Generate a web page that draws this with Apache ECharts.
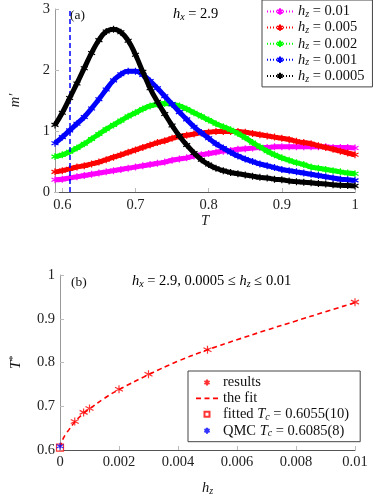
<!DOCTYPE html>
<html>
<head>
<meta charset="utf-8">
<script src="https://cdn.jsdelivr.net/npm/echarts@6/dist/echarts.min.js"></script>
<style>
    html, body { margin: 0; padding: 0; background: #fff; }
    #chart { width: 373px; height: 497px; }
</style>
</head>
<body>
<div id="chart"></div>
<script>
    // panel (a): m' against T for several h_z
    var temps = [0.59, 0.60, 0.61, 0.62, 0.63, 0.64, 0.65, 0.66, 0.67, 0.68, 0.69,
        0.70, 0.71, 0.72, 0.73, 0.74, 0.75, 0.76, 0.77, 0.78, 0.79,
        0.80, 0.81, 0.82, 0.83, 0.84, 0.85, 0.86, 0.87, 0.88, 0.89,
        0.90, 0.91, 0.92, 0.93, 0.94, 0.95, 0.96, 0.97, 0.98, 0.99, 1.00];
    var hzLabels = ['0.01', '0.005', '0.002', '0.001', '0.0005'];
    var hzColors = ['#ff00ff', '#ff0000', '#00ff00', '#0000ff', '#000000'];
    var m_001 = [0.20, 0.21, 0.23, 0.25, 0.27, 0.29, 0.31, 0.33, 0.35, 0.37, 0.39,
        0.41, 0.43, 0.45, 0.47, 0.49, 0.52, 0.54, 0.56, 0.59, 0.61,
        0.63, 0.65, 0.67, 0.68, 0.70, 0.71, 0.72, 0.73, 0.73, 0.74,
        0.74, 0.74, 0.74, 0.74, 0.74, 0.74, 0.74, 0.73, 0.73, 0.73, 0.72];
    var m_0005 = [0.33, 0.35, 0.38, 0.41, 0.43, 0.46, 0.49, 0.53, 0.57, 0.61, 0.65,
        0.69, 0.73, 0.77, 0.81, 0.84, 0.88, 0.91, 0.93, 0.95, 0.97,
        0.98, 0.99, 0.99, 0.99, 0.99, 0.98, 0.96, 0.94, 0.92, 0.90,
        0.88, 0.86, 0.83, 0.81, 0.79, 0.76, 0.73, 0.70, 0.67, 0.64, 0.61];
    var m_0002 = [0.58, 0.61, 0.66, 0.72, 0.79, 0.87, 0.95, 1.03, 1.10, 1.17, 1.24,
        1.30, 1.36, 1.41, 1.44, 1.45, 1.44, 1.41, 1.36, 1.30, 1.24,
        1.18, 1.12, 1.07, 1.02, 0.96, 0.89, 0.81, 0.74, 0.67, 0.61,
        0.56, 0.52, 0.48, 0.45, 0.41, 0.39, 0.37, 0.35, 0.33, 0.31, 0.30];
    var m_0001 = [0.80, 0.90, 1.01, 1.12, 1.23, 1.37, 1.52, 1.68, 1.83, 1.93, 1.98,
        1.98, 1.92, 1.82, 1.70, 1.57, 1.44, 1.31, 1.19, 1.07, 0.97,
        0.88, 0.79, 0.72, 0.65, 0.59, 0.54, 0.50, 0.46, 0.43, 0.40,
        0.37, 0.35, 0.33, 0.31, 0.29, 0.27, 0.25, 0.23, 0.21, 0.20, 0.19];
    var m_00005 = [1.10, 1.30, 1.54, 1.78, 2.03, 2.28, 2.49, 2.63, 2.67, 2.62, 2.48,
        2.25, 1.97, 1.70, 1.48, 1.28, 1.09, 0.92, 0.77, 0.64, 0.53,
        0.45, 0.39, 0.35, 0.32, 0.30, 0.28, 0.26, 0.24, 0.23, 0.21,
        0.20, 0.18, 0.17, 0.16, 0.15, 0.14, 0.13, 0.12, 0.11, 0.105, 0.10];
    var mCurves = [m_001, m_0005, m_0002, m_0001, m_00005];
    var qmcTc = 0.6085;

    // panel (b): T* against h_z
    var hzResults = [0.0005, 0.0008, 0.001, 0.002, 0.003, 0.005, 0.01];
    var tResults = [0.665, 0.686, 0.695, 0.739, 0.773, 0.829, 0.938];
    var hzFit = [0, 0.00005, 0.0001, 0.0002, 0.0003, 0.0005, 0.00075, 0.001, 0.0015,
        0.002, 0.003, 0.004, 0.005, 0.006, 0.007, 0.008, 0.009, 0.01];
    var tFit = [0.6055, 0.617, 0.625, 0.637, 0.646, 0.664, 0.681, 0.694, 0.718,
        0.738, 0.772, 0.803, 0.829, 0.852, 0.874, 0.895, 0.916, 0.937];
    var fittedTc = 0.6055;

    var serif = '"Liberation Serif", "DejaVu Serif", serif';
    var starPath = 'path://M5,0L5,10M0.67,2.5L9.33,7.5M0.67,7.5L9.33,2.5';
    // legend icons, drawn inside a 22x12 (or 26x12) box so the mark keeps a small size
    var boxPts = function (w, h) { return 'M0,0L0.01,0M' + w + ',' + h + 'L' + (w - 0.01) + ',' + h; };
    var starAt = function (cx, cy, r) {
        var a = r * 0.866, b = r * 0.5;
        return 'M' + cx + ',' + (cy - r) + 'L' + cx + ',' + (cy + r) +
            'M' + (cx - a) + ',' + (cy - b) + 'L' + (cx + a) + ',' + (cy + b) +
            'M' + (cx - a) + ',' + (cy + b) + 'L' + (cx + a) + ',' + (cy - b);
    };
    var dots = '';
    [0, 3, 6, 9, 16, 19, 22, 25].forEach(function (x) { dots += 'M' + x + ',6L' + (x + 1) + ',6'; });
    var iconTop = 'path://' + boxPts(26, 12) + dots + starAt(13, 6, 3.2);
    var iconStar = 'path://' + boxPts(22, 12) + starAt(11, 6, 3);
    var iconRect = 'path://' + boxPts(22, 12) + 'M8.5,3.5L13.5,3.5L13.5,8.5L8.5,8.5Z';
    var iconDash = 'path://M0,0L0.01,0L0.01,0.01ZM22,12L21.99,12L21.99,11.99Z' +
        'M0,5.2L5,5.2L5,6.8L0,6.8ZM8.5,5.2L13.5,5.2L13.5,6.8L8.5,6.8ZM17,5.2L22,5.2L22,6.8L17,6.8Z';

    var rich = {
        i: { fontFamily: serif, fontStyle: 'italic', fontSize: 14.5, color: '#111', lineHeight: 16 },
        s: { fontFamily: serif, fontStyle: 'italic', fontSize: 10, color: '#111', lineHeight: 9, verticalAlign: 'bottom' },
        p: { fontFamily: serif, fontSize: 10, color: '#111', lineHeight: 9, verticalAlign: 'top' },
        n: { fontFamily: serif, fontSize: 14.5, color: '#111', lineHeight: 16 }
    };

    function pairs(xs, ys) {
        return xs.map(function (x, k) { return [x, ys[k]]; });
    }

    var series = [];
    mCurves.forEach(function (ys, k) {
        // thick band under the star markers
        series.push({
            name: 'band ' + hzLabels[k], type: 'line', xAxisIndex: 0, yAxisIndex: 0,
            data: pairs(temps, ys), smooth: true, symbol: 'none', silent: true,
            lineStyle: { color: hzColors[k], width: 5 }, z: 2 + k
        });
        series.push({
            name: hzLabels[k], type: 'line', xAxisIndex: 0, yAxisIndex: 0,
            data: pairs(temps, ys), smooth: true,
            symbol: starPath, symbolSize: 7, showAllSymbol: true,
            itemStyle: { color: hzColors[k], borderColor: hzColors[k], borderWidth: 1.2 },
            lineStyle: { color: hzColors[k], width: 1, type: 'dotted' }, z: 2 + k
        });
    });
    // dashed QMC T_c line
    series[series.length - 1].markLine = {
        silent: true, symbol: 'none', label: { show: false },
        lineStyle: { color: '#0000ff', type: [5, 3], width: 1.5 },
        data: [{ xAxis: qmcTc }]
    };

    series.push({
        name: 'results', type: 'scatter', xAxisIndex: 1, yAxisIndex: 1,
        data: pairs(hzResults, tResults), symbol: starPath, symbolSize: 8,
        itemStyle: { color: '#ff0000', borderColor: '#ff0000', borderWidth: 1.2 }, z: 4
    });
    series.push({
        name: 'the fit', type: 'line', xAxisIndex: 1, yAxisIndex: 1,
        data: pairs(hzFit, tFit), smooth: true, symbol: 'none',
        itemStyle: { color: '#ff0000' },
        lineStyle: { color: '#ff0000', width: 1.6, type: [5, 3.5] }, z: 3
    });
    series.push({
        name: 'fitted', type: 'scatter', xAxisIndex: 1, yAxisIndex: 1,
        data: [[0, fittedTc]], symbol: 'rect', symbolSize: 7,
        itemStyle: { color: 'rgba(255,255,255,0)', borderColor: '#ff0000', borderWidth: 1.2 }, z: 5
    });
    series.push({
        name: 'QMC', type: 'scatter', xAxisIndex: 1, yAxisIndex: 1,
        data: [[0, qmcTc]], symbol: starPath, symbolSize: 7,
        itemStyle: { color: '#0000ff', borderColor: '#0000ff', borderWidth: 1.2 }, z: 6
    });

    function valueAxis(opt) {
        var base = {
            type: 'value',
            axisLine: { show: true, lineStyle: { color: '#555', width: 1 } },
            axisTick: { show: true, inside: true, length: 4, lineStyle: { color: '#bbb' } },
            axisLabel: { fontFamily: serif, fontSize: 14.5, color: '#222', margin: 5 },
            splitLine: { show: false },
            nameTextStyle: { fontFamily: serif, fontSize: 14.5, color: '#222', fontStyle: 'italic', rich: rich }
        };
        return Object.assign(base, opt);
    }

    var chart = echarts.init(document.getElementById('chart'));
    chart.setOption({
        animation: false,
        grid: [
            { left: 52, right: 18, top: 9, height: 183 },
            { left: 52, right: 18, top: 275, height: 182 }
        ],
        xAxis: [
            valueAxis({
                gridIndex: 0, min: 0.59, max: 1.0,
                axisLabel: { fontFamily: serif, fontSize: 14.5, color: '#222', margin: 6, customValues: [0.6, 0.7, 0.8, 0.9, 1] },
                axisTick: { show: true, inside: true, length: 4, lineStyle: { color: '#bbb' }, customValues: [0.6, 0.7, 0.8, 0.9, 1] },
                name: 'T', nameLocation: 'middle', nameGap: 21
            }),
            valueAxis({
                gridIndex: 1, min: 0, max: 0.01, interval: 0.002,
                name: '{i|h}{s|z}', nameLocation: 'middle', nameGap: 30
            })
        ],
        yAxis: [
            valueAxis({
                gridIndex: 0, min: 0, max: 3, interval: 1,
                axisLine: { show: true, lineStyle: { color: '#999', width: 1 } },
                name: 'm′', nameLocation: 'middle', nameGap: 32
            }),
            valueAxis({
                gridIndex: 1, min: 0.6, max: 1, interval: 0.1,
                axisLine: { show: true, lineStyle: { color: '#999', width: 1 } },
                name: '{i|T}{p|*}', nameLocation: 'middle', nameGap: 36
            })
        ],
        legend: [
            {
                orient: 'vertical', left: 262, top: 0,
                data: hzLabels.map(function (n) { return { name: n, icon: iconTop }; }),
                itemWidth: 26, itemHeight: 12, itemGap: 0.6,
                padding: [4, 8, 3, 4], borderColor: '#444', borderWidth: 1, backgroundColor: '#fff',
                textStyle: { fontFamily: serif, fontSize: 14.5, color: '#111', rich: rich },
                formatter: function (name) { return '{i|h}{s|z}{n| = ' + name + '}'; }
            },
            {
                orient: 'vertical', left: 188, top: 371,
                data: [
                    { name: 'results', icon: iconStar },
                    { name: 'the fit', icon: iconDash, itemStyle: { borderWidth: 0 } },
                    { name: 'fitted', icon: iconRect },
                    { name: 'QMC', icon: iconStar }
                ],
                itemWidth: 22, itemHeight: 12, itemGap: 0.9,
                padding: [4, 11, 3, 7], borderColor: '#444', borderWidth: 1, backgroundColor: '#fff',
                textStyle: { fontFamily: serif, fontSize: 14.5, color: '#111', rich: rich },
                formatter: function (name) {
                    if (name === 'fitted') return '{n|fitted }{i|T}{s|c}{n| = 0.6055(10)}';
                    if (name === 'QMC') return '{n|QMC }{i|T}{s|c}{n| = 0.6085(8)}';
                    return '{n|' + name + '}';
                }
            }
        ],
        graphic: [
            { type: 'text', left: 70, top: 8, style: { text: '(a)', font: '13.5px ' + serif, fill: '#111' } },
            { type: 'text', left: 173, top: 7, style: { text: '{i|h}{s|x}{n| = 2.9}', rich: rich } },
            { type: 'text', left: 71, top: 275, style: { text: '(b)', font: '13.5px ' + serif, fill: '#111' } },
            { type: 'text', left: 132, top: 274, style: { text: '{i|h}{s|x}{n| = 2.9, 0.0005 ≤ }{i|h}{s|z}{n| ≤ 0.01}', rich: rich } }
        ],
        series: series
    });
</script>
</body>
</html>
